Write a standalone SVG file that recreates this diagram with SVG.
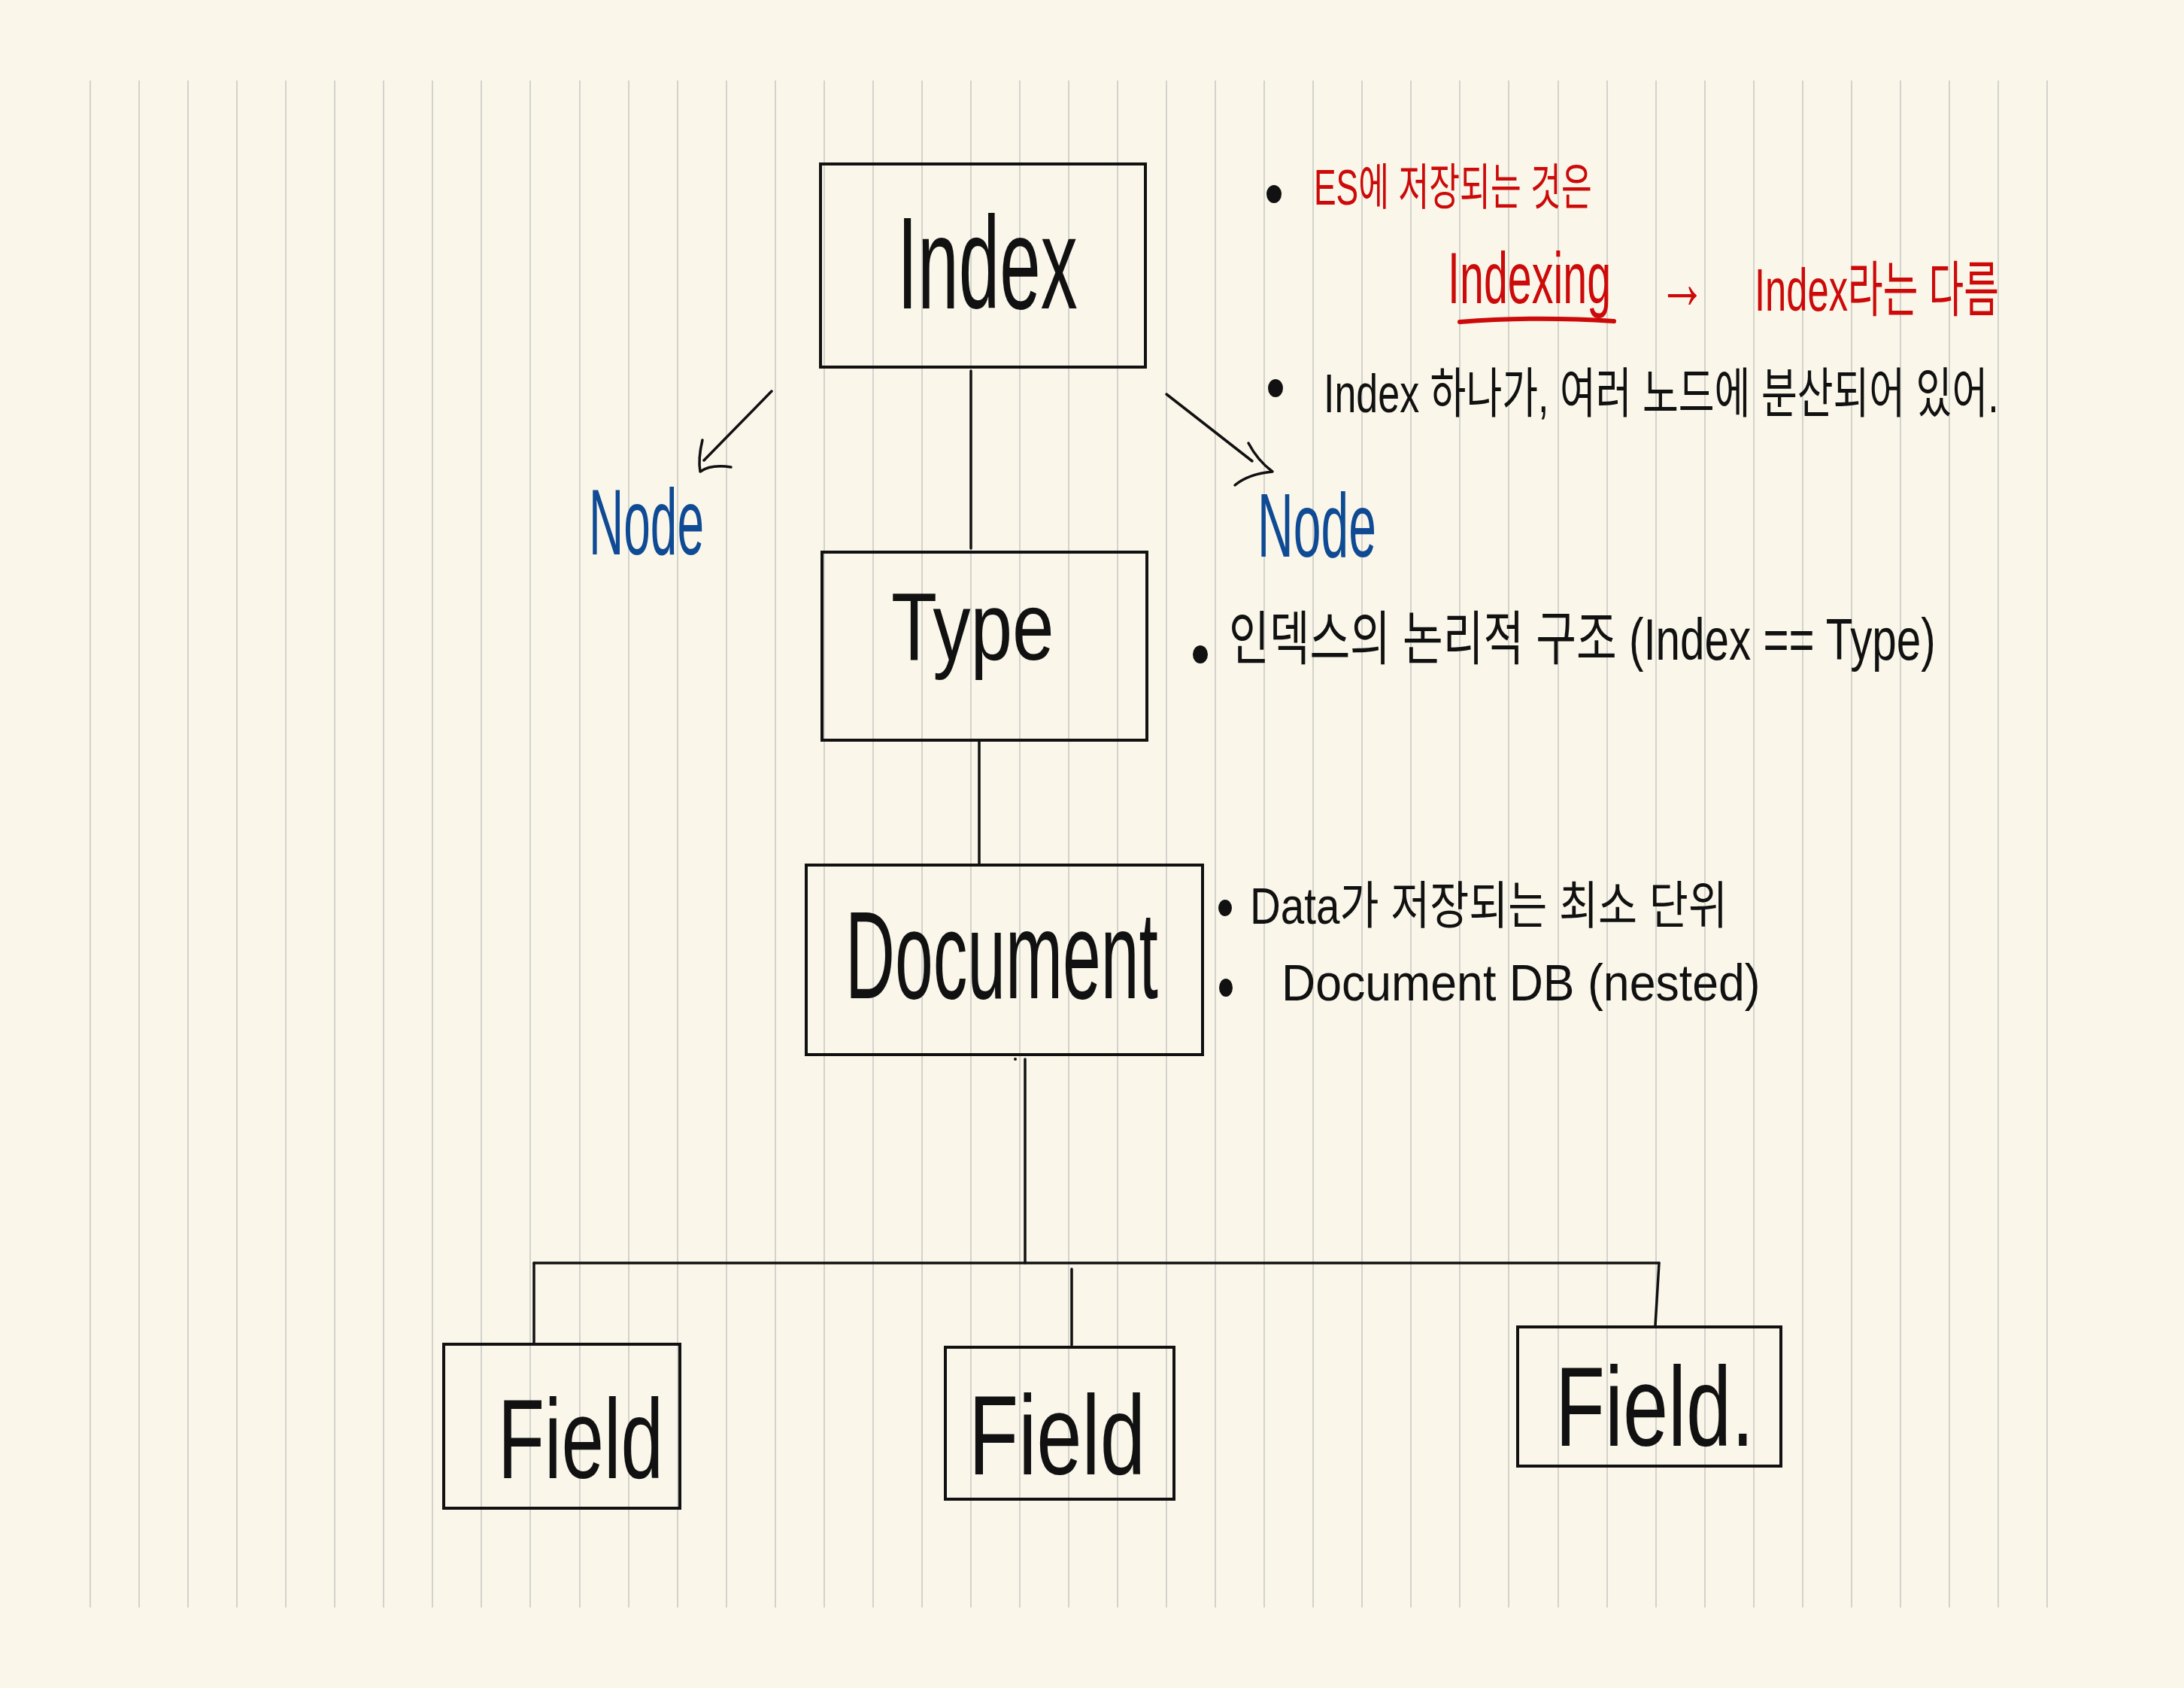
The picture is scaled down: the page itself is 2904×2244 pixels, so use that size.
<svg xmlns="http://www.w3.org/2000/svg" width="2904" height="2244" viewBox="0 0 2904 2244">
<style>
.grid{stroke:#d3d2cc;stroke-width:2;fill:none}
.box{fill:none;stroke:#111;stroke-width:4}
.con{fill:none;stroke:#111;stroke-width:3.5;stroke-linecap:round;stroke-linejoin:round}
.lbl{font-family:"Liberation Sans","Noto Sans CJK KR",sans-serif;fill:#111}
.note{font-family:"Liberation Sans","Noto Sans CJK KR",sans-serif;fill:#111}
.red{fill:#cc0a0a}
.blue{fill:#0f4a94}
.dot{fill:#111}
</style>
<rect x="0" y="0" width="2904" height="2244" fill="#faf7ea"/>
<g id="grid">
<path class="grid" d="M120 107V2137M185 107V2137M250 107V2137M315 107V2137M380 107V2137M445 107V2137M510 107V2137M575 107V2137M640 107V2137M705 107V2137M771 107V2137M836 107V2137M901 107V2137M966 107V2137M1031 107V2137M1096 107V2137M1161 107V2137M1226 107V2137M1291 107V2137M1356 107V2137M1421 107V2137M1486 107V2137M1551 107V2137M1616 107V2137M1681 107V2137M1746 107V2137M1811 107V2137M1876 107V2137M1941 107V2137M2006 107V2137M2072 107V2137M2137 107V2137M2202 107V2137M2267 107V2137M2332 107V2137M2397 107V2137M2462 107V2137M2527 107V2137M2592 107V2137M2657 107V2137M2722 107V2137"/>
</g>
<g id="connectors">
<path class="con" d="M1291 493V729"/>
<path class="con" d="M1302 985V1148"/>
<path class="con" d="M1363 1408V1679"/>
<path class="con" stroke-width="4.5" d="M710 1679H2206"/>
<path class="con" d="M710 1679V1785"/>
<path class="con" d="M1425 1687V1788"/>
<path class="con" d="M2206 1679L2201 1762"/>
<circle class="dot" cx="1350" cy="1408" r="2"/>
<path class="con" d="M1026 520L936 612"/>
<path class="con" stroke-width="4.5" d="M934 585Q928 610 931 627Q945 617 972 621"/>
<path class="con" d="M1551 524L1665 613"/>
<path class="con" stroke-width="4.5" d="M1660 589Q1672 612 1692 627Q1660 630 1642 645"/>
</g>
<g id="node-index">
<rect class="box" x="1091" y="218" width="432" height="270"/>
<text class="lbl" transform="translate(1193 410) scale(0.56 1)" x="0" y="0" font-size="175" textLength="428" lengthAdjust="spacingAndGlyphs">Index</text>
</g>
<g id="node-type">
<rect class="box" x="1093" y="734" width="432" height="250"/>
<text class="lbl" transform="translate(1185 877) scale(0.763 1)" x="0" y="0" font-size="128" textLength="284" lengthAdjust="spacingAndGlyphs">Type</text>
</g>
<g id="node-document">
<rect class="box" x="1072" y="1150" width="527" height="252"/>
<text class="lbl" transform="translate(1124 1327) scale(0.553 1)" x="0" y="0" font-size="165" textLength="752" lengthAdjust="spacingAndGlyphs">Document</text>
</g>
<g id="node-field-1">
<rect class="box" x="590" y="1787" width="314" height="218"/>
<text class="lbl" transform="translate(662 1965) scale(0.677 1)" x="0" y="0" font-size="150" textLength="325" lengthAdjust="spacingAndGlyphs">Field</text>
</g>
<g id="node-field-2">
<rect class="box" x="1257" y="1791" width="304" height="202"/>
<text class="lbl" transform="translate(1288 1960) scale(0.723 1)" x="0" y="0" font-size="150" textLength="325" lengthAdjust="spacingAndGlyphs">Field</text>
</g>
<g id="node-field-3">
<rect class="box" x="2018" y="1764" width="350" height="185"/>
<text class="lbl" transform="translate(2068 1922) scale(0.72 1)" x="0" y="0" font-size="150" textLength="367" lengthAdjust="spacingAndGlyphs">Field.</text>
</g>
<g id="node-left">
<text class="lbl blue" transform="translate(783 737) scale(0.512 1)" x="0" y="0" font-size="125" textLength="299" lengthAdjust="spacingAndGlyphs">Node</text>
</g>
<g id="node-right">
<text class="lbl blue" transform="translate(1672 740) scale(0.55 1)" x="0" y="0" font-size="120" textLength="287" lengthAdjust="spacingAndGlyphs">Node</text>
</g>
<g id="notes">
<ellipse class="dot" cx="1694" cy="258" rx="10" ry="12"/>
<text class="note red" transform="translate(1747 272) scale(0.63 1)" x="0" y="0" font-size="66" textLength="587" lengthAdjust="spacingAndGlyphs">ES에 저장되는 것은</text>
<text class="note red" transform="translate(1925 403) scale(0.598 1)" x="0" y="0" font-size="96" textLength="363" lengthAdjust="spacingAndGlyphs">Indexing</text>
<path d="M1941 428Q2040 420 2146 427" fill="none" stroke="#cc0a0a" stroke-width="6" stroke-linecap="round"/>
<text class="note red" x="2205" y="410" font-size="100" textLength="64" lengthAdjust="spacingAndGlyphs">→</text>
<text class="note red" transform="translate(2333 413) scale(0.604 1)" x="0" y="0" font-size="80" textLength="538" lengthAdjust="spacingAndGlyphs">Index라는 다름</text>
<ellipse class="dot" cx="1696" cy="516" rx="10" ry="12"/>
<text class="note" transform="translate(1760 548) scale(0.678 1)" x="0" y="0" font-size="72" textLength="1324" lengthAdjust="spacingAndGlyphs">Index 하나가, 여러 노드에 분산되어 있어.</text>
<ellipse class="dot" cx="1596" cy="870" rx="10" ry="12"/>
<text class="note" transform="translate(1634 877) scale(0.713 1)" x="0" y="0" font-size="78" textLength="1318" lengthAdjust="spacingAndGlyphs">인덱스의 논리적 구조 (Index == Type)</text>
<ellipse class="dot" cx="1629" cy="1207" rx="9" ry="11"/>
<text class="note" transform="translate(1662 1228) scale(0.781 1)" x="0" y="0" font-size="68" textLength="813" lengthAdjust="spacingAndGlyphs">Data가 저장되는 최소 단위</text>
<ellipse class="dot" cx="1630" cy="1313" rx="9" ry="12"/>
<text class="note" transform="translate(1704 1330) scale(0.92 1)" x="0" y="0" font-size="68" textLength="692" lengthAdjust="spacingAndGlyphs">Document DB (nested)</text>
</g>
</svg>
